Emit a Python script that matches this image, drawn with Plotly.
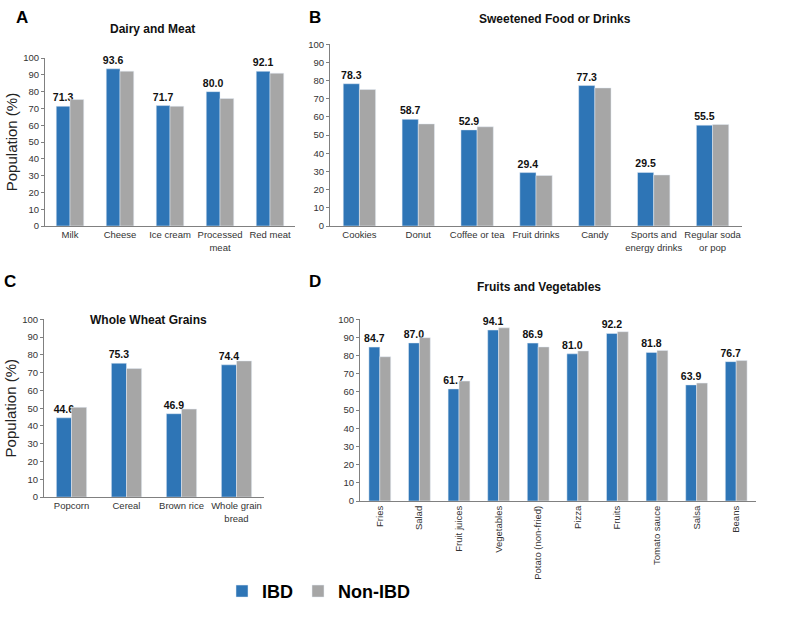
import plotly.graph_objects as go

W, H = 800, 617

# ---- data ----
a_cats = ["Milk", "Cheese", "Ice cream", "Processed<br>meat", "Red meat"]
a_ibd = [71.3, 93.6, 71.7, 80.0, 92.1]
a_non = [75.3, 92.2, 71.3, 75.9, 91.0]

b_cats = ["Cookies", "Donut", "Coffee or tea", "Fruit drinks", "Candy",
          "Sports and<br>energy drinks", "Regular soda<br>or pop"]
b_ibd = [78.3, 58.7, 52.9, 29.4, 77.3, 29.5, 55.5]
b_non = [75.1, 56.2, 54.6, 27.8, 76.0, 28.1, 55.9]

c_cats = ["Popcorn", "Cereal", "Brown rice", "Whole grain<br>bread"]
c_ibd = [44.6, 75.3, 46.9, 74.4]
c_non = [50.5, 72.3, 49.5, 76.6]

d_cats = ["Fries", "Salad", "Fruit juices", "Vegetables", "Potato (non-fried)",
          "Pizza", "Fruits", "Tomato sauce", "Salsa", "Beans"]
d_ibd = [84.7, 87.0, 61.7, 94.1, 86.9, 81.0, 92.2, 81.8, 63.9, 76.7]
d_non = [79.4, 89.9, 66.0, 95.3, 84.8, 82.6, 93.2, 82.9, 64.9, 77.3]

series_names = ["IBD", "Non-IBD"]
colors = ["#2E75B6", "#A6A6A6"]

FONT = "Liberation Sans, Arial, sans-serif"

fig = go.Figure()

panels = [
    (a_cats, a_ibd, a_non, (45, 295, 53, 224), "Dairy and Meat", "A", (152, 23), True, 0, (22, 12)),
    (b_cats, b_ibd, b_non, (330, 742, 39, 224), "Sweetened Food or Drinks", "B", (555, 13), False, 0, (315, 12)),
    (c_cats, c_ibd, c_non, (44, 264, 319, 500), "Whole Wheat Grains", "C", (148, 320), True, 0, (10, 281)),
    (d_cats, d_ibd, d_non, (360, 756, 319, 504), "Fruits and Vegetables", "D", (539, 286), False, -90, (315, 281)),
]

annotations = []
for i, (cats, ibd, non, box, title, letter, tpos, ylab, tang, lpos) in enumerate(panels):
    n = "" if i == 0 else str(i + 1)
    xa, ya = "x" + n, "y" + n
    fig.add_trace(go.Bar(
        x=cats, y=ibd, name=series_names[0], marker_color=colors[0],
        xaxis=xa, yaxis=ya, showlegend=(i == 0), legendgroup="ibd",
        texttemplate="<b>%{y:.1f}</b>", textposition="outside",
        constraintext="none", cliponaxis=False,
        textfont=dict(family=FONT, size=10.5, color="#111111"),
    ))
    fig.add_trace(go.Bar(
        x=cats, y=non, name=series_names[1], marker_color=colors[1],
        xaxis=xa, yaxis=ya, showlegend=(i == 0), legendgroup="non",
    ))
    x0, x1, yt, yb = box
    fig.layout["xaxis" + n] = dict(
        domain=[x0 / W, x1 / W], anchor=ya, showline=True, linecolor="#808080",
        linewidth=1, ticks="", tickfont=dict(family=FONT, size=9.5, color="#333333"),
        tickangle=tang, showgrid=False, zeroline=False,
    )
    fig.layout["yaxis" + n] = dict(
        domain=[1 - yb / H, 1 - yt / H], anchor=xa, range=[0, 100], dtick=10,
        showline=True, linecolor="#808080", linewidth=1, ticks="outside",
        ticklen=3, tickcolor="#808080", showgrid=False, zeroline=False,
        tickfont=dict(family=FONT, size=9.5, color="#333333"),
        title=dict(text="Population (%)", font=dict(family=FONT, size=15, color="#222222"),
                   standoff=1) if ylab else None,
    )
    annotations.append(dict(
        text="<b>" + title + "</b>", x=tpos[0] / W, y=1 - tpos[1] / H,
        xref="paper", yref="paper", showarrow=False, xanchor="center", yanchor="middle",
        font=dict(family=FONT, size=12, color="#111111"),
    ))
    annotations.append(dict(
        text="<b>" + letter + "</b>", x=lpos[0] / W, y=1 - lpos[1] / H,
        xref="paper", yref="paper", showarrow=False, xanchor="center", yanchor="middle",
        font=dict(family=FONT, size=17, color="#000000"),
    ))

fig.update_layout(
    width=W, height=H, margin=dict(l=0, r=0, t=0, b=0),
    paper_bgcolor="white", plot_bgcolor="white",
    barmode="group", bargap=0.45, bargroupgap=0,
    annotations=annotations,
    showlegend=True,
    legend=dict(orientation="h", x=222 / W, y=1 - 596 / H, xanchor="left", yanchor="middle",
                font=dict(family=FONT, size=18, color="#000000", weight="bold"),
                itemwidth=30, tracegroupgap=0, bgcolor="rgba(0,0,0,0)"),
)

fig.write_html("out.html", config={"displayModeBar": False},
               post_script="document.body.style.margin='0';")
